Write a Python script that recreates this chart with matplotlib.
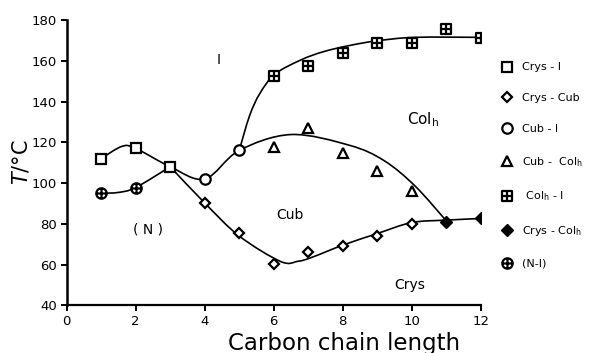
import numpy as np
import matplotlib
matplotlib.use("Agg")
from matplotlib import pyplot as plt
from matplotlib.path import Path
from matplotlib.patches import PathPatch

plt.rcParams['font.family'] = ['DejaVu Sans']
plt.rcParams['mathtext.fontset'] = 'custom'
plt.rcParams['mathtext.rm'] = 'DejaVu Sans'
plt.rcParams['mathtext.it'] = 'DejaVu Sans:italic'

# measured transition temperatures
crys_i_n = [1, 2, 3]
crys_i_t = [112, 117, 108]
crys_cub_n = [4, 5, 6, 7, 8, 9, 10]
crys_cub_t = [90, 75.7, 60.5, 66.2, 69.3, 74.1, 80.1]
cub_i_n = [4, 5]
cub_i_t = [102, 116]
cub_col_n = [6, 7, 8, 9, 10]
cub_col_t = [117.8, 126.8, 114.5, 106, 96.2]
col_i_n = [6, 7, 8, 9, 10, 11, 12]
col_i_t = [152.5, 157.6, 163.9, 168.5, 168.5, 175.6, 171.3]
crys_col_n = [11, 12]
crys_col_t = [81, 82.6]
n_i_n = [1, 2]
n_i_t = [95.2, 97.8]

# hand-drawn phase boundaries (knots)
bound_a_n = [1, 1.6, 2, 3, 4, 5, 6.5, 8.2, 9.2, 10.1, 11]
bound_a_t = [112, 118, 117, 108, 102, 116, 123.8, 118.5, 111, 98.5, 81.5]
bound_b_n = [1, 1.5, 2, 3]
bound_b_t = [95, 95.4, 97.8, 108]
bound_c_n = [3, 4, 5, 6.2, 6.7, 7.1, 8, 9, 10, 11, 12]
bound_c_t = [108, 90.2, 74, 61.5, 61.6, 63.5, 69.5, 75.2, 80.6, 81.8, 82.6]
bound_d_n = [5, 5.3, 5.6, 6.04, 6.8, 7.45, 8.2, 9, 10.1, 12]
bound_d_t = [116, 133, 144, 153.5, 160.5, 164.5, 167.5, 169.8, 171.5, 171.5]


def smooth_path(xs, ys):
    # Catmull-Rom knots -> cubic bezier path, drawn by matplotlib
    p = np.column_stack([xs, ys]).astype(float)
    verts = [p[0]]
    codes = [Path.MOVETO]
    n = len(p)
    for i in range(n - 1):
        p0 = p[i - 1] if i > 0 else p[i]
        p1 = p[i]
        p2 = p[i + 1]
        p3 = p[i + 2] if i + 2 < n else p[i + 1]
        verts += [p1 + (p2 - p0) / 6, p2 - (p3 - p1) / 6, p2]
        codes += [Path.CURVE4] * 3
    return Path(verts, codes)


sq = [(-1, -1), (1, -1), (1, 1), (-1, 1), (-1, -1)]
boxplus = Path(sq + [(0, -1), (0, 1), (-1, 0), (1, 0)],
               [Path.MOVETO] + [Path.LINETO] * 3 + [Path.CLOSEPOLY] +
               [Path.MOVETO, Path.LINETO, Path.MOVETO, Path.LINETO])
circ = Path.unit_circle()
oplus = Path(np.vstack([circ.vertices, [(0, -1), (0, 1), (-1, 0), (1, 0)]]),
             np.concatenate([circ.codes, [Path.MOVETO, Path.LINETO, Path.MOVETO, Path.LINETO]]))

fig = plt.figure(figsize=(5.99, 3.53), dpi=100)
ax = fig.add_axes([0.1114, 0.1351, 0.6911, 0.8082])

for bx, bt in [(bound_a_n, bound_a_t), (bound_b_n, bound_b_t),
               (bound_c_n, bound_c_t), (bound_d_n, bound_d_t)]:
    ax.add_patch(PathPatch(smooth_path(bx, bt), fill=False, lw=1.2, color='black'))

mk = dict(ls='none', color='black', mec='black', mew=1.6, mfc='white')
h1, = ax.plot(crys_i_n, crys_i_t, marker='s', ms=7, label='Crys - I', **mk)
h2, = ax.plot(crys_cub_n, crys_cub_t, marker='D', ms=5.5, label='Crys - Cub', **mk)
h3, = ax.plot(cub_i_n, cub_i_t, marker='o', ms=7.5, label='Cub - I', **mk)
h4, = ax.plot(cub_col_n, cub_col_t, marker='^', ms=7, label=r'Cub -  Col$_\mathregular{h}$', **mk)
h5, = ax.plot(col_i_n, col_i_t, marker=boxplus, ms=7, label=r' Col$_\mathregular{h}$ - I', **mk)
h6, = ax.plot(crys_col_n, crys_col_t, ls='none', marker='D', ms=6, color='black',
              label=r'Crys - Col$_\mathregular{h}$')
h7, = ax.plot(n_i_n, n_i_t, marker=oplus, ms=7.5, label='(N-I)', **mk)

ax.text(4.39, 160.4, 'I', fontsize=10, ha='center', va='center')
ax.text(10.34, 131, r'Col$_\mathregular{h}$', fontsize=11, ha='center', va='center')
ax.text(6.47, 84.2, 'Cub', fontsize=10, ha='center', va='center')
ax.text(2.37, 77.2, '( N )', fontsize=10, ha='center', va='center')
ax.text(9.95, 50.2, 'Crys', fontsize=10, ha='center', va='center')

ax.set_xlim(0, 12)
ax.set_ylim(40, 180)
ax.set_xticks(range(0, 13, 2))
ax.set_yticks(range(40, 181, 20))
ax.spines['top'].set_visible(False)
ax.spines['right'].set_visible(False)
ax.spines['left'].set_linewidth(1.8)
ax.spines['bottom'].set_linewidth(1.6)
ax.tick_params(direction='out', length=4, width=1.4, labelsize=9.5, pad=3)

ax.set_ylabel(r'$\mathit{T}$/°C', fontsize=15)
ax.yaxis.set_label_coords(-0.085, 0.5)
ax.set_xlabel('Carbon chain length', fontsize=16.5, va='top')
ax.xaxis.set_label_coords(0.671, -0.094)

fig.legend(handles=[h1, h2, h3, h4, h5, h6, h7], loc='upper left',
           bbox_to_anchor=(0.837, 0.823), frameon=False, fontsize=8,
           handlelength=1.0, handletextpad=0.85, labelspacing=1.87,
           borderpad=0, borderaxespad=0, numpoints=1)

fig.savefig('out.png', dpi=100)
